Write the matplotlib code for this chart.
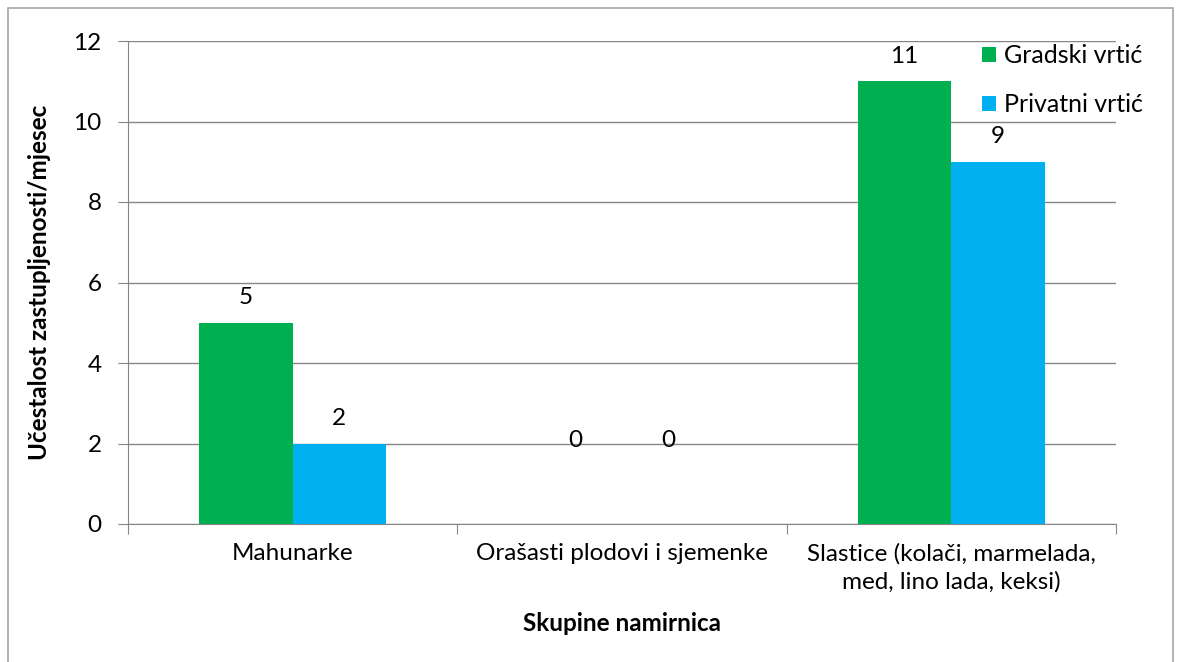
import matplotlib
matplotlib.use("Agg")
import matplotlib.pyplot as plt
import numpy as np
from matplotlib.patches import Rectangle

plt.rcParams['font.family'] = ['Lato', 'DejaVu Sans']

categories = ["Mahunarke", "Orašasti plodovi i sjemenke",
              "Slastice (kolači, marmelada,\nmed, lino lada, keksi)"]
gradski = [5, 0, 11]
privatni = [2, 0, 9]
series_names = ["Gradski vrtić", "Privatni vrtić"]
yticks = [0, 2, 4, 6, 8, 10, 12]

green = '#00B050'
blue = '#00B0F0'
gray = '#868686'
fs = 17.5

fig = plt.figure(figsize=(11.84, 6.62), dpi=100)
ax = fig.add_axes([128/1184, 1-524/662, (1116-128)/1184, (524-41)/662])

# outer chart border
fig.patches.append(Rectangle((8/1184, -0.05), (1173-8)/1184, 1.05-8/662,
                             transform=fig.transFigure, fill=False,
                             edgecolor='#a6a6a6', lw=1.2))

x = np.arange(len(categories))
w = 0.284
b1 = ax.bar(x - w/2, gradski, w, color=green, label=series_names[0], zorder=3)
b2 = ax.bar(x + w/2, privatni, w, color=blue, label=series_names[1], zorder=3)

for bars in (b1, b2):
    for r in bars:
        v = r.get_height()
        off = 18 if v > 0 else 60
        ax.annotate(f"{v:g}", (r.get_x() + r.get_width()/2, v),
                    xytext=(0, off), textcoords='offset points',
                    ha='center', va='center', fontsize=fs)

ax.set_ylim(0, 12)
ax.set_xlim(-0.5, 2.5)
ax.set_yticks(yticks)
ax.yaxis.grid(True, color=gray, lw=1, zorder=0)
ax.set_axisbelow(True)

ax.set_xticks([-0.5, 0.5, 1.5, 2.5])
ax.set_xticklabels([])
ax.set_xticks(x, minor=True)
ax.set_xticklabels(categories, minor=True, fontsize=fs, linespacing=1.35)
ax.tick_params(axis='x', which='minor', length=0, pad=14)
ax.tick_params(axis='x', which='major', length=7, color=gray, direction='out')
ax.tick_params(axis='y', length=7, color=gray, labelsize=fs, pad=12)

for s in ('top', 'right'):
    ax.spines[s].set_visible(False)
for s in ('left', 'bottom'):
    ax.spines[s].set_color(gray)

ax.set_ylabel("Učestalost zastupljenosti/mjesec", fontsize=fs, fontweight='bold', labelpad=16)
ax.set_xlabel("Skupine namirnica", fontsize=fs, fontweight='bold', labelpad=14)

fig.legend(loc='upper left', bbox_to_anchor=(982/1184, 1-44/662), frameon=False,
           fontsize=18, handlelength=0.55, handleheight=0.55, handletextpad=0.35,
           labelspacing=1.05, borderaxespad=0, borderpad=0)

fig.savefig('out.png', dpi=100)
